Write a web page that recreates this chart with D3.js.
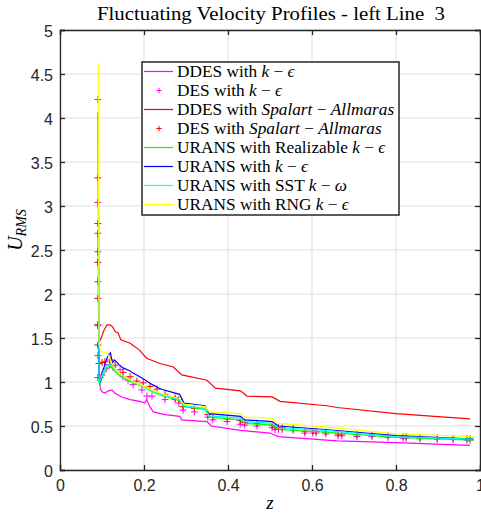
<!DOCTYPE html>
<html lang="en">
<head>
<meta charset="UTF-8">
<title>Fluctuating Velocity Profiles</title>
<style>
  html, body {margin: 0; padding: 0; background: #fff;}
  .tick text {font-family: "Liberation Sans", Arial, sans-serif; font-size: 16px; fill: #262626;}
  .serif {font-family: "Liberation Serif", "DejaVu Serif", serif; fill: #000;}
</style>
<script src="https://d3js.org/d3.v7.min.js"></script>
</head>
<body>
<script>
// shared z grid for the URANS runs
var zUrans = [0.091, 0.093, 0.096, 0.1, 0.105, 0.11, 0.115, 0.12, 0.125, 0.13, 0.14, 0.15, 0.165, 0.175, 0.19, 0.2, 0.22, 0.24, 0.27, 0.285, 0.295, 0.345, 0.355, 0.43, 0.44, 0.505, 0.52, 0.63, 0.80, 0.985];
var uRealizable = [2.2, 1.0, 0.98, 1.05, 1.1, 1.14, 1.17, 1.18, 1.15, 1.12, 1.08, 1.05, 1.01, 0.99, 0.96, 0.94, 0.89, 0.85, 0.81, 0.79, 0.72, 0.69, 0.60, 0.57, 0.53, 0.51, 0.46, 0.43, 0.37, 0.34];
var uKe = [2.7, 1.05, 1.0, 1.1, 1.17, 1.25, 1.3, 1.33, 1.22, 1.25, 1.2, 1.16, 1.13, 1.1, 1.06, 1.03, 0.97, 0.92, 0.88, 0.86, 0.76, 0.73, 0.64, 0.61, 0.57, 0.55, 0.50, 0.46, 0.39, 0.35];
var uSst = [3.67, 1.0, 1.02, 1.08, 1.13, 1.17, 1.19, 1.2, 1.17, 1.14, 1.1, 1.07, 1.03, 1.0, 0.97, 0.95, 0.9, 0.86, 0.82, 0.80, 0.73, 0.70, 0.615, 0.59, 0.55, 0.53, 0.48, 0.45, 0.38, 0.35];
var uRng = [4.62, 1.45, 1.36, 1.34, 1.34, 1.34, 1.3, 1.25, 1.2, 1.16, 1.11, 1.07, 1.03, 1.0, 0.97, 0.95, 0.91, 0.87, 0.83, 0.81, 0.75, 0.72, 0.66, 0.64, 0.60, 0.59, 0.53, 0.49, 0.41, 0.38];

// DDES k-epsilon
var zDdesKe = [0.0915, 0.093, 0.096, 0.1, 0.107, 0.115, 0.124, 0.13, 0.147, 0.167, 0.19, 0.202, 0.206, 0.214, 0.222, 0.25, 0.285, 0.29, 0.35, 0.36, 0.43, 0.50, 0.52, 0.66, 0.80, 0.976];
var uDdesKe = [1.45, 1.1, 0.92, 0.89, 0.875, 0.90, 0.91, 0.875, 0.83, 0.80, 0.78, 0.76, 0.80, 0.72, 0.66, 0.63, 0.61, 0.57, 0.55, 0.50, 0.45, 0.42, 0.38, 0.33, 0.31, 0.28];

// DDES Spalart-Allmaras
var zDdesSa = [0.0905, 0.093, 0.098, 0.104, 0.112, 0.12, 0.126, 0.132, 0.138, 0.145, 0.167, 0.19, 0.206, 0.238, 0.27, 0.29, 0.35, 0.37, 0.43, 0.445, 0.505, 0.524, 0.635, 0.66, 0.80, 0.976];
var uDdesSa = [4.07, 1.45, 1.50, 1.58, 1.65, 1.65, 1.62, 1.57, 1.56, 1.48, 1.44, 1.36, 1.27, 1.21, 1.17, 1.08, 1.02, 0.93, 0.90, 0.84, 0.83, 0.78, 0.73, 0.71, 0.64, 0.58];

// DES k-epsilon (markers)
var zDesKe = [0.09, 0.09, 0.09, 0.09, 0.09, 0.09, 0.09, 0.09, 0.095, 0.1, 0.11, 0.118, 0.126, 0.143, 0.15, 0.162, 0.174, 0.195, 0.207, 0.219, 0.25, 0.274, 0.283, 0.293, 0.32, 0.352, 0.364, 0.398, 0.429, 0.44, 0.469, 0.505, 0.512, 0.52, 0.529, 0.555, 0.583, 0.602, 0.61, 0.633, 0.662, 0.671, 0.707, 0.743, 0.781, 0.817, 0.824, 0.857, 0.898, 0.936, 0.969, 0.976];
var uDesKe = [4.21, 3.04, 2.69, 2.48, 2.14, 1.64, 1.30, 1.05, 1.05, 1.08, 1.15, 1.2, 1.17, 1.14, 1.06, 1.02, 0.97, 0.91, 0.84, 0.84, 0.80, 0.80, 0.76, 0.68, 0.66, 0.60, 0.57, 0.55, 0.52, 0.51, 0.50, 0.48, 0.46, 0.46, 0.46, 0.45, 0.42, 0.42, 0.42, 0.41, 0.39, 0.39, 0.38, 0.38, 0.37, 0.36, 0.36, 0.355, 0.35, 0.345, 0.34, 0.34];

// DES Spalart-Allmaras (markers)
var zDesSa = [0.09, 0.09, 0.09, 0.09, 0.09, 0.09, 0.093, 0.1, 0.107, 0.119, 0.131, 0.15, 0.167, 0.183, 0.198, 0.214, 0.231, 0.25, 0.274, 0.283, 0.293, 0.32, 0.352, 0.364, 0.398, 0.429, 0.44, 0.469, 0.505, 0.512, 0.52, 0.529, 0.555, 0.583, 0.602, 0.61, 0.633, 0.662, 0.671, 0.707, 0.743, 0.781, 0.817, 0.824, 0.857, 0.898, 0.936, 0.969, 0.976];
var uDesSa = [3.32, 2.8, 2.36, 1.95, 1.65, 1.42, 1.21, 1.22, 1.23, 1.25, 1.19, 1.11, 1.06, 1.01, 0.99, 0.95, 0.92, 0.86, 0.82, 0.80, 0.72, 0.70, 0.63, 0.60, 0.58, 0.56, 0.54, 0.53, 0.51, 0.49, 0.48, 0.48, 0.47, 0.44, 0.44, 0.44, 0.43, 0.41, 0.41, 0.40, 0.40, 0.39, 0.38, 0.38, 0.37, 0.365, 0.36, 0.355, 0.355];

var xTicks = [0, 0.2, 0.4, 0.6, 0.8, 1];
var yTicks = [0, 0.5, 1, 1.5, 2, 2.5, 3, 3.5, 4, 4.5, 5];

var width = 481, height = 518;
var margin = {left: 60, top: 30, right: 1, bottom: 48};
var pw = width - margin.left - margin.right;
var ph = height - margin.top - margin.bottom;

var svg = d3.select('body').append('svg')
  .attr('width', width)
  .attr('height', height);

var x = d3.scaleLinear().domain([0, 1]).range([margin.left, margin.left + pw]);
var y = d3.scaleLinear().domain([0, 5]).range([margin.top + ph, margin.top]);

// grid
var grid = svg.append('g').attr('stroke', '#dfdfdf').attr('stroke-width', 1);
xTicks.forEach(function (t) {
  grid.append('line').attr('x1', x(t)).attr('x2', x(t)).attr('y1', y(0)).attr('y2', y(5));
});
yTicks.forEach(function (t) {
  grid.append('line').attr('x1', x(0)).attr('x2', x(1)).attr('y1', y(t)).attr('y2', y(t));
});

var lines = [
  {z: zDdesKe, u: uDdesKe, color: '#ff00ff'},
  {z: zDdesSa, u: uDdesSa, color: '#ff0000'},
  {z: zUrans, u: uRealizable, color: '#00ff00'},
  {z: zUrans, u: uKe, color: '#0000ff'},
  {z: zUrans, u: uSst, color: '#00ffff'},
  {z: zUrans, u: uRng, color: '#ffff00'}
];
var marks = [
  {z: zDesKe, u: uDesKe, color: '#ff00ff'},
  {z: zDesSa, u: uDesSa, color: '#ff0000'}
];

var line = d3.line().x(function (d) { return x(d[0]); }).y(function (d) { return y(d[1]); });
var plus = 'M-3.5,0H3.5M0,-3.5V3.5';

function drawLine(s) {
  svg.append('path')
    .datum(d3.zip(s.z, s.u))
    .attr('fill', 'none')
    .attr('stroke', s.color)
    .attr('stroke-width', 1.2)
    .attr('d', line);
}
function drawMarks(s) {
  svg.append('g').selectAll('path')
    .data(d3.zip(s.z, s.u))
    .enter().append('path')
    .attr('transform', function (d) { return 'translate(' + x(d[0]) + ',' + y(d[1]) + ')'; })
    .attr('d', plus)
    .attr('stroke', s.color)
    .attr('stroke-width', 1);
}
// legend order = draw order
drawLine(lines[0]);
drawMarks(marks[0]);
drawLine(lines[1]);
drawMarks(marks[1]);
lines.slice(2).forEach(drawLine);

// axes
var ax = svg.append('g').attr('transform', 'translate(0,' + y(0) + ')')
  .call(d3.axisBottom(x).tickValues(xTicks).tickSize(-5).tickPadding(10).tickFormat(d3.format('')));
var axTop = svg.append('g').attr('transform', 'translate(0,' + y(5) + ')')
  .call(d3.axisTop(x).tickValues(xTicks).tickSize(-5).tickFormat(''));
var ay = svg.append('g').attr('transform', 'translate(' + x(0) + ',0)')
  .call(d3.axisLeft(y).tickValues(yTicks).tickSize(-5).tickPadding(7).tickFormat(d3.format('')));
var ayR = svg.append('g').attr('transform', 'translate(' + x(1) + ',0)')
  .call(d3.axisRight(y).tickValues(yTicks).tickSize(-5).tickFormat(''));
[ax, axTop, ay, ayR].forEach(function (a) {
  a.select('.domain').attr('stroke', '#262626').attr('stroke-width', 1.3);
  a.selectAll('.tick line').attr('stroke', '#262626').attr('stroke-width', 1.3);
});
ay.selectAll('.tick text').attr('dy', '0.42em');

// title and labels
svg.append('text').attr('class', 'serif')
  .attr('x', 271).attr('y', 20)
  .attr('text-anchor', 'middle').attr('font-size', 19)
  .attr('textLength', 348).attr('lengthAdjust', 'spacingAndGlyphs')
  .text('Fluctuating Velocity Profiles - left Line\u00a0\u00a03');

svg.append('text').attr('class', 'serif')
  .attr('x', 270).attr('y', 509).attr('text-anchor', 'middle')
  .attr('font-size', 19).attr('font-style', 'italic').text('z');

var yl = svg.append('text').attr('class', 'serif')
  .attr('transform', 'translate(22,230) rotate(-90)')
  .attr('text-anchor', 'middle').attr('font-size', 20).attr('font-style', 'italic');
yl.append('tspan').text('U');
yl.append('tspan').attr('font-size', 14).attr('dy', 4).text('RMS');

// legend
var legendRows = [
  {type: 'line', color: '#ff00ff', parts: [['DDES with ', 0], ['k', 1], [' \u2212 ', 0], ['\u03f5', 1]]},
  {type: 'mark', color: '#ff00ff', parts: [['DES with ', 0], ['k', 1], [' \u2212 ', 0], ['\u03f5', 1]]},
  {type: 'line', color: '#ff0000', parts: [['DDES with ', 0], ['Spalart', 1], [' \u2212 ', 0], ['Allmaras', 1]]},
  {type: 'mark', color: '#ff0000', parts: [['DES with ', 0], ['Spalart', 1], [' \u2212 ', 0], ['Allmaras', 1]]},
  {type: 'line', color: '#00ff00', parts: [['URANS with Realizable ', 0], ['k', 1], [' \u2212 ', 0], ['\u03f5', 1]]},
  {type: 'line', color: '#0000ff', parts: [['URANS with ', 0], ['k', 1], [' \u2212 ', 0], ['\u03f5', 1]]},
  {type: 'line', color: '#00ffff', parts: [['URANS with SST ', 0], ['k', 1], [' \u2212 ', 0], ['\u03c9', 1]]},
  {type: 'line', color: '#ffff00', parts: [['URANS with RNG ', 0], ['k', 1], [' \u2212 ', 0], ['\u03f5', 1]]}
];
var lg = svg.append('g').attr('transform', 'translate(142,62)');
lg.append('rect').attr('width', 257).attr('height', 153)
  .attr('fill', '#fff').attr('stroke', '#262626').attr('stroke-width', 1.5);
legendRows.forEach(function (r, i) {
  var cy = 9.5 + i * 19;
  if (r.type === 'line') {
    lg.append('line').attr('x1', 2).attr('x2', 31).attr('y1', cy).attr('y2', cy)
      .attr('stroke', r.color).attr('stroke-width', 1.2);
  } else {
    lg.append('path').attr('d', plus).attr('transform', 'translate(17,' + cy + ') scale(0.75)')
      .attr('stroke', r.color).attr('stroke-width', 1.3);
  }
  var t = lg.append('text').attr('class', 'serif').attr('x', 35).attr('y', cy + 5.5).attr('font-size', 17.3);
  r.parts.forEach(function (p) {
    t.append('tspan').attr('font-style', p[1] ? 'italic' : 'normal').text(p[0]);
  });
});
</script>
</body>
</html>
